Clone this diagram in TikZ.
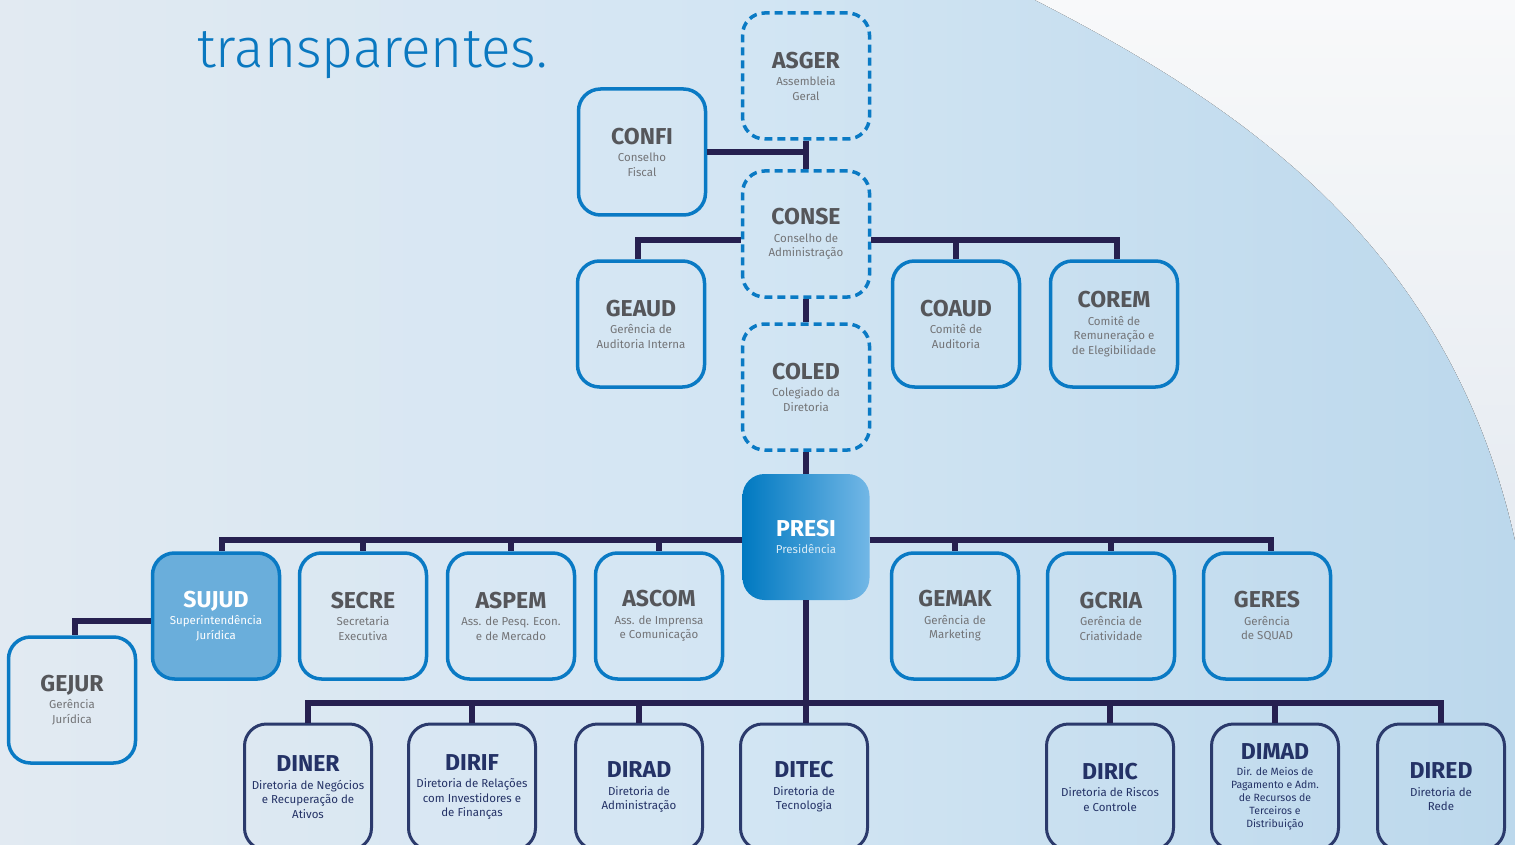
\documentclass[tikz,border=0pt]{standalone}
\usepackage{fontspec}
\setmainfont{Fira Sans}
\newfontfamily\lightfont{Fira Sans Light}
\usetikzlibrary{calc}

\definecolor{bgleft}{HTML}{E2EAF2}
\definecolor{bgmid}{HTML}{D2E5F3}
\definecolor{bgright}{HTML}{BCD8EC}
\definecolor{paletop}{HTML}{F8F9FA}
\definecolor{palebot}{HTML}{E6EBF1}
\definecolor{headblue}{HTML}{0A78C0}
\definecolor{boxblue}{HTML}{0A7AC4}
\definecolor{linknavy}{HTML}{262050}
\definecolor{dirnavy}{HTML}{2B3A6C}
\definecolor{dirtext}{HTML}{243266}
\definecolor{titlegrey}{HTML}{55565A}
\definecolor{subgrey}{HTML}{737477}
\definecolor{presileft}{HTML}{0079C1}
\definecolor{presiright}{HTML}{72B7E6}
\definecolor{sujudfill}{HTML}{6AAEDB}

% bold abbreviation at the top of a box
\newcommand\abbr[1]{{\fontsize{23}{26}\selectfont\bfseries #1}}
\newcommand\gabbr[1]{{\color{titlegrey}\abbr{#1}}}

\tikzset{
  orgbox/.style={rectangle, rounded corners=22pt, minimum width=127pt,
    minimum height=126pt, inner sep=0pt, align=center,
    font=\fontsize{11.5}{14.5}\selectfont},
  unitbox/.style={orgbox, draw=boxblue, line width=3.5pt, text=subgrey},
  boardbox/.style={unitbox, dash pattern=on 8pt off 5pt},
  dirbox/.style={orgbox, draw=dirnavy, line width=3pt, text=dirtext},
  link/.style={draw=linknavy, line width=6pt},
}

\begin{document}
\begin{tikzpicture}[x=1pt, y=-1pt]
  \useasboundingbox (0,0) rectangle (1515,845);

  % background
  \fill[left color=bgleft, right color=bgright, middle color=bgmid]
    (0,0) rectangle (1515,845);
  \fill[top color=paletop, bottom color=palebot]
    (1035,0) .. controls (1250,110) and (1450,250) .. (1515,540)
    -- (1515,0) -- cycle;

  % heading
  \node[anchor=base west, inner sep=0pt, text=headblue,
        font=\lightfont\fontsize{55}{60}\selectfont] (head) at (197,68)
        {transparentes.};

  % governance
  \node[boardbox] (asger) at (806,76)  {\gabbr{ASGER}\\[3pt]Assembleia\\Geral};
  \node[unitbox]  (confi) at (642,152) {\gabbr{CONFI}\\[3pt]Conselho\\Fiscal};
  \node[boardbox] (conse) at (806,234) {\gabbr{CONSE}\\[3pt]Conselho de\\Administração};
  \node[boardbox] (coled) at (806,387) {\gabbr{COLED}\\[3pt]Colegiado da\\Diretoria};
  \node[unitbox]  (geaud) at (641,324) {\gabbr{GEAUD}\\[3pt]Gerência de\\Auditoria Interna};
  \node[unitbox]  (coaud) at (956,324) {\gabbr{COAUD}\\[3pt]Comitê de\\Auditoria};
  \node[unitbox]  (corem) at (1114,324) {\gabbr{COREM}\\[3pt]Comitê de\\Remuneração e\\de Elegibilidade};

  % presidency
  \node[orgbox, left color=presileft, right color=presiright, text=white]
    (presi) at (806,537)
    {\abbr{PRESI}\\[3pt]{\color{white!85!presileft}Presidência}};

  % units under the presidency
  \node[unitbox, fill=sujudfill, text=white] (sujud) at (216,616)
    {\abbr{SUJUD}\\[3pt]Superintendência\\Jurídica};
  \node[unitbox] (secre) at (363,616) {\gabbr{SECRE}\\[3pt]Secretaria\\Executiva};
  \node[unitbox] (aspem) at (511,616) {\gabbr{ASPEM}\\[3pt]Ass. de Pesq. Econ.\\e de Mercado};
  \node[unitbox] (ascom) at (659,616) {\gabbr{ASCOM}\\[3pt]Ass. de Imprensa\\e Comunicação};
  \node[unitbox] (gemak) at (955,616) {\gabbr{GEMAK}\\[3pt]Gerência de\\Marketing};
  \node[unitbox] (gcria) at (1111,616) {\gabbr{GCRIA}\\[3pt]Gerência de\\Criatividade};
  \node[unitbox] (geres) at (1267,616) {\gabbr{GERES}\\[3pt]Gerência\\de SQUAD};
  \node[unitbox] (gejur) at (72,700) {\gabbr{GEJUR}\\[3pt]Gerência\\Jurídica};

  % directorates
  \node[dirbox] (diner) at (308,787) {\abbr{DINER}\\[3pt]Diretoria de Negócios\\e Recuperação de\\Ativos};
  \node[dirbox] (dirif) at (472,787) {\abbr{DIRIF}\\[3pt]Diretoria de Relações\\com Investidores e\\de Finanças};
  \node[dirbox] (dirad) at (639,787) {\abbr{DIRAD}\\[3pt]Diretoria de\\Administração};
  \node[dirbox] (ditec) at (804,787) {\abbr{DITEC}\\[3pt]Diretoria de\\Tecnologia};
  \node[dirbox] (diric) at (1110,787) {\abbr{DIRIC}\\[3pt]Diretoria de Riscos\\e Controle};
  \node[dirbox, font=\fontsize{10.5}{13}\selectfont] (dimad) at (1275,787)
    {\abbr{DIMAD}\\[3pt]Dir. de Meios de\\Pagamento e Adm.\\de Recursos de\\Terceiros e\\Distribuição};
  \node[dirbox] (dired) at (1441,787) {\abbr{DIRED}\\[3pt]Diretoria de\\Rede};

  % bus points
  \coordinate (conseL) at ([yshift=-6pt]conse.west);
  \coordinate (conseR) at ([yshift=-6pt]conse.east);
  \coordinate (presiL) at ([yshift=-3pt]presi.west);
  \coordinate (presiR) at ([yshift=-3pt]presi.east);
  \coordinate (sujudL) at ([yshift=-5pt]sujud.west);
  \coordinate (sujudT) at ([xshift=6pt]sujud.north);
  \coordinate (geresT) at ([xshift=4pt]geres.north);
  \coordinate (geaudT) at ([xshift=-3pt]geaud.north);
  \coordinate (coremT) at ([xshift=3pt]corem.north);
  \coordinate (gejurT) at ([xshift=3pt]gejur.north);

  % connectors: governance
  \path[link] (asger.south) -- (conse.north);
  \path[link] (confi.east) -- (confi.east -| asger.south);
  \path[link] (conseL) -| (geaudT);
  \path[link] (conseR) -| (coremT);
  \path[link] (coaud.north |- conseR) -- (coaud.north);
  \path[link] (conse.south) -- (coled.north);
  \path[link] (coled.south) -- (presi.north);

  % connectors: presidency units
  \path[link] (presiL) -| (sujudT);
  \path[link] (presiR) -| (geresT);
  \foreach \u in {secre, aspem, ascom, gemak, gcria}
    \path[link] (\u.north |- presiL) -- (\u.north);
  \path[link] (sujudL) -| (gejurT);

  % connectors: directorates
  \path[link] (presi.south) -- (presi.south |- ditec.north);
  \path[link] (diner.north) -- ++(0,-20) -| (dired.north);
  \foreach \d in {dirif, dirad, diric, dimad}
    \path[link] (\d.north) -- ++(0,-20);
\end{tikzpicture}
\end{document}
